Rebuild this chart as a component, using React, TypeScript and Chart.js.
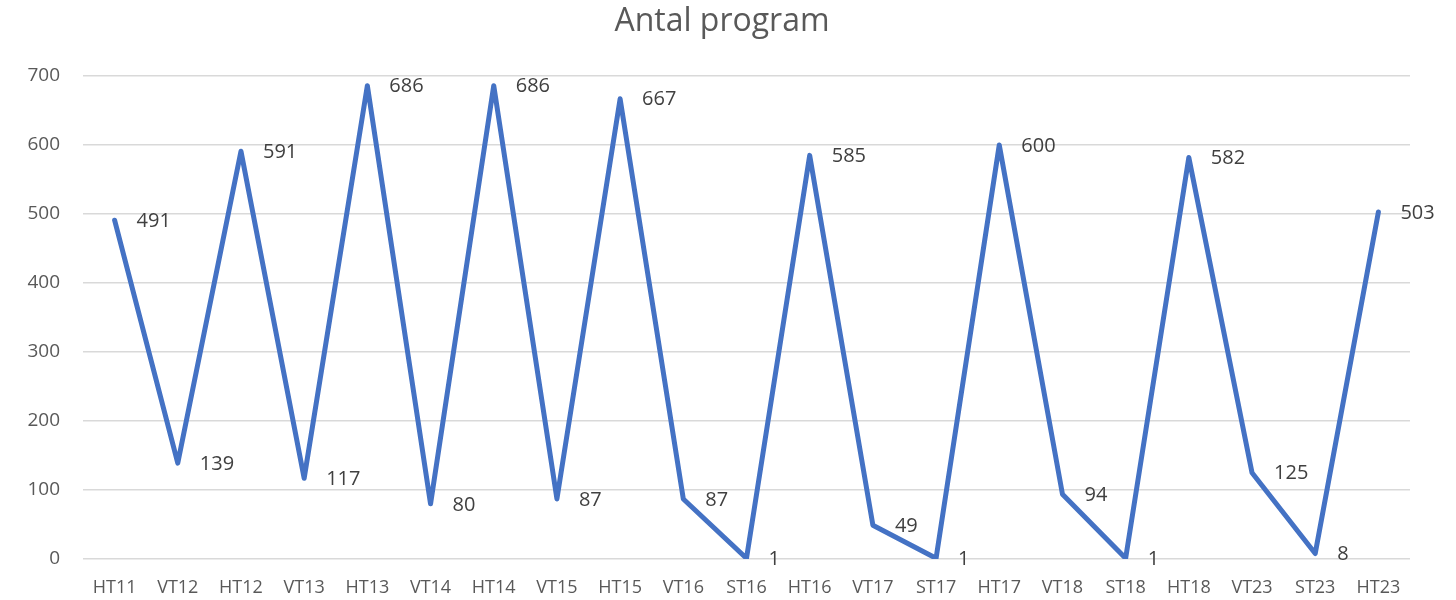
import React, { useEffect, useRef } from "react";
import { Chart, registerables } from "chart.js";

Chart.register(...registerables);

const categories = ["HT11","VT12","HT12","VT13","HT13","VT14","HT14","VT15","HT15","VT16","ST16","HT16","VT17","ST17","HT17","VT18","ST18","HT18","VT23","ST23","HT23"];
const values = [491,139,591,117,686,80,686,87,667,87,1,585,49,1,600,94,1,582,125,8,503];
const yTicks = [0,100,200,300,400,500,600,700];
const title = "Antal program";

const FONT = "'Open Sans', sans-serif";

const labelPlugin = {
  id: "pointLabels",
  afterDatasetsDraw(chart: any) {
    const ctx = chart.ctx;
    const meta = chart.getDatasetMeta(0);
    ctx.save();
    ctx.font = `20px ${FONT}`;
    ctx.fillStyle = "#404040";
    ctx.textAlign = "left";
    ctx.textBaseline = "middle";
    meta.data.forEach((pt: any, i: number) => {
      ctx.fillText(String(values[i]), pt.x + 22, pt.y + 1);
    });
    ctx.restore();
  },
};

const titlePlugin = {
  id: "customTitle",
  afterDraw(chart: any) {
    const ctx = chart.ctx;
    ctx.save();
    ctx.font = `32px ${FONT}`;
    ctx.fillStyle = "#595959";
    ctx.textAlign = "center";
    ctx.textBaseline = "middle";
    ctx.fillText(title, 722, 22);
    ctx.restore();
  },
};

export default function App() {
  const ref = useRef<HTMLCanvasElement>(null);
  useEffect(() => {
    document.body.style.margin = "0";
    const chart = new Chart(ref.current!, {
      type: "line",
      data: {
        labels: categories,
        datasets: [
          {
            data: values,
            borderColor: "#4472C4",
            borderWidth: 5,
            borderJoinStyle: "round",
            borderCapStyle: "round",
            pointRadius: 0,
            tension: 0,
            fill: false,
          },
        ],
      },
      options: {
        animation: false,
        responsive: false,
        layout: { padding: { top: 76, right: 46, left: 0, bottom: 0 } },
        plugins: { legend: { display: false }, title: { display: false }, tooltip: { enabled: false } },
        scales: {
          x: {
            offset: true,
            grid: { display: false, drawTicks: false },
            border: { display: false },
            ticks: { color: "#595959", font: { family: FONT, size: 18 }, padding: 18, maxRotation: 0, autoSkip: false },
            afterFit(scale: any) { scale.height = 41; },
          },
          y: {
            min: 0,
            max: 700,
            afterBuildTicks(scale: any) { scale.ticks = yTicks.map((v) => ({ value: v })); },
            grid: { color: "#d9d9d9", lineWidth: 1.5, drawTicks: false },
            border: { display: false },
            ticks: { color: "#595959", font: { family: FONT, size: 19 }, padding: 23 },
            afterFit(scale: any) { scale.width = 83; },
          },
        },
      },
      plugins: [labelPlugin, titlePlugin],
    });
    return () => chart.destroy();
  }, []);
  return (
    <div style={{ width: 1456, height: 600 }}>
      <canvas ref={ref} width={1456} height={600} />
    </div>
  );
}
